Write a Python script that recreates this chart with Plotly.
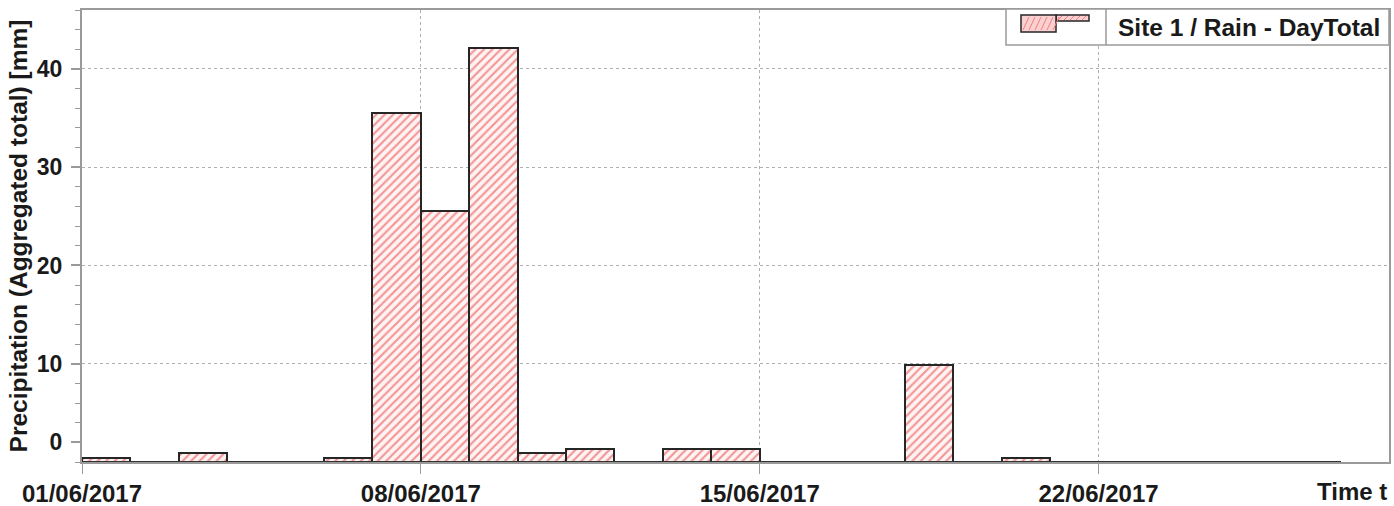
import pandas as pd
import plotly.graph_objects as go

# ---- data ----
dates = pd.date_range("2017-06-01", "2017-06-26", freq="D")
rain_mm = [0.4, 0.0, 0.9, 0.0, 0.0, 0.4, 35.5, 25.5, 42.1, 0.9,
           1.3, 0.0, 1.3, 1.3, 0.0, 0.0, 0.0, 9.9, 0.0, 0.4,
           0.0, 0.0, 0.0, 0.0, 0.0, 0.0]
series_name = "Site 1 / Rain - DayTotal"
x_tick_dates = ["2017-06-01", "2017-06-08", "2017-06-15", "2017-06-22"]
y_tick_vals = [2, 10, 20, 30, 40]
y_tick_text = ["0", "10", "20", "30", "40"]
y_grid_vals = [10, 20, 30, 40]

DAY_MS = 86400000
FONT = "Liberation Sans, Arial, sans-serif"
TXT = "#1a1a1a"
AXIS_GREY = "#9a9a9a"
GRID_GREY = "#b0b0b0"
BAR_EDGE = "#262626"
HATCH_FG = "#f29494"
HATCH_BG = "#fff3f3"


def bold(size):
    return dict(size=size, weight="bold", family=FONT, color=TXT)


fig = go.Figure()

# daily totals, each bar covering its whole day
fig.add_trace(go.Bar(
    x=dates, y=rain_mm, name=series_name,
    offset=0, width=DAY_MS,
    marker=dict(
        color=HATCH_FG,
        line=dict(color=BAR_EDGE, width=2),
        pattern=dict(shape="/", fgcolor=HATCH_FG, bgcolor=HATCH_BG,
                     size=6, solidity=0.35, fillmode="replace"),
    ),
    showlegend=False,
))

# baseline of the recorded period (zero-valued days)
fig.add_trace(go.Scatter(
    x=[dates[0], dates[-1] + pd.Timedelta(days=1)], y=[0, 0],
    mode="lines", line=dict(color="#333333", width=2),
    showlegend=False, hoverinfo="skip",
))

# grid-only overlay axis (the main axis' labels sit off the grid)
fig.add_trace(go.Scatter(x=[dates[0]], y=[0], yaxis="y2", mode="markers",
                         marker=dict(opacity=0), showlegend=False,
                         hoverinfo="skip"))

# ---- legend drawn as a framed key in the top-right corner (pixel offsets) ----
def px_shape(kind, x0, x1, y0, y1, **kw):
    return dict(type=kind, xref="paper", yref="paper",
                xsizemode="pixel", ysizemode="pixel", xanchor=1, yanchor=1,
                x0=x0, x1=x1, y0=y0, y1=y1, layer="above", **kw)


legend_shapes = [
    px_shape("rect", -383, 0, 1, -35, line=dict(color=AXIS_GREY, width=1.5),
             fillcolor="white"),
    px_shape("line", -283, -283, 1, -35, line=dict(color=AXIS_GREY, width=1.5)),
    px_shape("rect", -333, -300, -5, -11, line=dict(color=BAR_EDGE, width=1.5),
             fillcolor="#fbd0d0"),
    px_shape("rect", -368, -333, -5, -22, line=dict(color=BAR_EDGE, width=1.5),
             fillcolor="#fbd0d0"),
]
for k in range(6):
    legend_shapes.append(px_shape(
        "line", -366 + 6 * k, -360 + 6 * k, -20, -7,
        line=dict(color="#f08080", width=1)))
for k in range(5):
    legend_shapes.append(px_shape(
        "line", -331 + 6 * k, -327 + 6 * k, -10, -6,
        line=dict(color="#f08080", width=1)))

fig.update_layout(
    template="none",
    width=1394, height=506, autosize=False,
    margin=dict(l=82, r=5, t=10, b=44, pad=0),
    paper_bgcolor="white", plot_bgcolor="white",
    font=dict(family=FONT, color=TXT),
    bargap=0,
    showlegend=False,
    xaxis=dict(
        type="date", automargin=False,
        range=["2017-06-01", "2017-06-28"],
        tickvals=x_tick_dates, tickformat="%d/%m/%Y",
        tickfont=bold(24),
        ticks="outside", ticklen=10, tickwidth=1, tickcolor=AXIS_GREY,
        ticklabelstandoff=-1,
        showgrid=True, gridcolor=GRID_GREY, griddash="dot", gridwidth=1,
        showline=True, linecolor=AXIS_GREY, linewidth=2, mirror=True,
        zeroline=False,
    ),
    yaxis=dict(
        automargin=False,
        range=[0, 46],
        tickmode="array", tickvals=y_tick_vals, ticktext=y_tick_text,
        tickfont=bold(23),
        ticks="outside", ticklen=9, tickwidth=2, tickcolor=AXIS_GREY,
        ticklabelstandoff=4,
        minor=dict(tickmode="linear", tick0=0, dtick=2, ticks="outside",
                   ticklen=5, tickwidth=1, tickcolor=AXIS_GREY, showgrid=False),
        showgrid=False,
        showline=True, linecolor=AXIS_GREY, linewidth=2, mirror=True,
        zeroline=False,
        title=dict(text="Precipitation (Aggregated total) [mm]",
                   font=bold(24.5), standoff=2),
    ),
    yaxis2=dict(
        overlaying="y", range=[0, 46], tickmode="array", tickvals=y_grid_vals,
        showticklabels=False, ticks="", showgrid=True, gridcolor=GRID_GREY,
        griddash="dot", gridwidth=1, zeroline=False, showline=False,
        automargin=False,
    ),
    shapes=legend_shapes,
    annotations=[
        dict(text="Time t", xref="paper", yref="paper", x=1, y=0,
             xanchor="right", yanchor="middle", yshift=-29, showarrow=False,
             font=bold(24)),
        dict(text=series_name, xref="paper", yref="paper", x=1, y=1,
             xanchor="right", yanchor="middle", xshift=-7, yshift=-17,
             showarrow=False, font=bold(24.5)),
    ],
)

fig.write_html("out.html", config={"displayModeBar": False},
               post_script="document.body.style.margin='0';")
